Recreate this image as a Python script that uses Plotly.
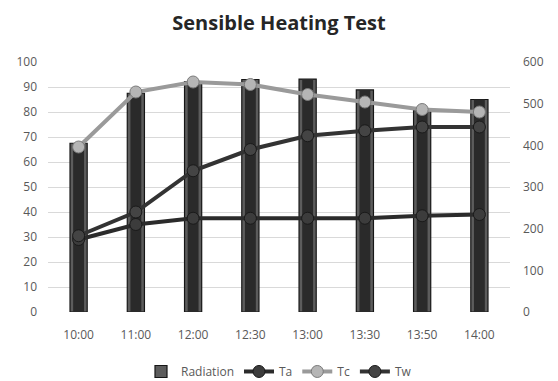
import plotly.graph_objects as go

times = ["10:00", "11:00", "12:00", "12:30", "13:00", "13:30", "13:50", "14:00"]
radiation = [405, 525, 553, 558, 559, 533, 485, 510]
ta = [29, 35, 37.5, 37.5, 37.5, 37.5, 38.5, 39]
tc = [66, 88, 92, 91, 87, 84, 81, 80]
tw = [30.5, 40, 56.5, 65, 70.5, 72.5, 74, 74]

font_family = "Open Sans"
text_color = "#595959"

fig = go.Figure()

# radiation bars on the primary axis (shown on the right, W/m2 scale):
# a lighter outer column with a darker core gives the bevelled look
fig.add_trace(go.Bar(
    x=times, y=radiation, name="Radiation", width=0.3,
    marker=dict(color="#5c5c5c", line=dict(color="#161616", width=1.2)),
    yaxis="y",
))
fig.add_trace(go.Bar(
    x=times, y=radiation, name="Radiation", width=0.19, showlegend=False,
    hoverinfo="skip",
    marker=dict(color="#2a2a2a", line=dict(width=0)),
    yaxis="y",
))

line_style = dict(mode="lines+markers", yaxis="y2")
fig.add_trace(go.Scatter(
    x=times, y=ta, name="Ta", **line_style,
    line=dict(color="#2b2b2b", width=4),
    marker=dict(symbol="circle", size=12, color="#3c3c3c",
                line=dict(color="#1a1a1a", width=1)),
))
fig.add_trace(go.Scatter(
    x=times, y=tc, name="Tc", **line_style,
    line=dict(color="#9a9a9a", width=4),
    marker=dict(symbol="circle", size=12, color="#b5b5b5",
                line=dict(color="#7a7a7a", width=1)),
))
fig.add_trace(go.Scatter(
    x=times, y=tw, name="Tw", **line_style,
    line=dict(color="#333333", width=4),
    marker=dict(symbol="circle", size=12, color="#444444",
                line=dict(color="#1a1a1a", width=1)),
))

fig.update_layout(
    width=558, height=381,
    margin=dict(l=48, r=48, t=62, b=69, autoexpand=False),
    paper_bgcolor="white", plot_bgcolor="white",
    font=dict(family=font_family, size=12, color=text_color),
    title=dict(text="<b>Sensible Heating Test</b>", x=0.5, xanchor="center",
               y=0.94, yanchor="middle",
               font=dict(family=font_family, size=20, color="#262626")),
    showlegend=True,
    barmode="overlay",
    legend=dict(orientation="h", x=0.5, xanchor="center",
                yref="container", y=0.025, yanchor="middle",
                font=dict(size=12, color=text_color), itemwidth=30,
                traceorder="normal"),
    xaxis=dict(type="category", showgrid=False, showline=False, ticks="",
               ticklabelstandoff=14, automargin=False,
               tickfont=dict(size=12, color=text_color)),
    yaxis=dict(side="right", range=[0, 600], dtick=100, showgrid=False,
               zeroline=False, showline=False, ticks="", ticklabelstandoff=12,
               automargin=False,
               tickfont=dict(size=12, color=text_color)),
    yaxis2=dict(side="left", overlaying="y", range=[0, 100], dtick=10,
                showgrid=True, gridcolor="#d9d9d9", gridwidth=1,
                zeroline=False, showline=False, ticks="", ticklabelstandoff=10,
                automargin=False,
                tickfont=dict(size=12, color=text_color)),
)

fig.write_html("out.html")
